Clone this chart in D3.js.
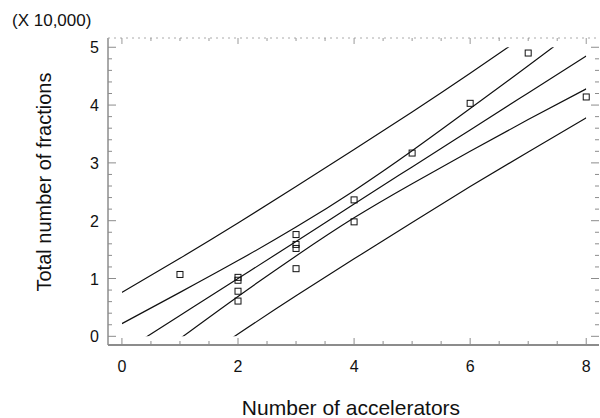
<!DOCTYPE html>
<html lang="en">
<head>
  <meta charset="UTF-8" />
  <title>Total number of fractions vs Number of accelerators</title>
  <script src="https://d3js.org/d3.v7.min.js"></script>
  <style>
    body {
      margin: 0;
      background: #fff;
      font-family: "Liberation Sans", Arial, sans-serif;
    }
    svg text {
      fill: #111;
    }
  </style>
</head>
<body>
  <div id="chart"></div>

  <script>
    // ---------- DATA ----------
    // observed points (y in units of 10,000 fractions)
    const accelerators = [1, 2, 2, 2, 2, 3, 3, 3, 3, 4, 4, 5, 6, 7, 8];
    const fractions = [1.07, 1.02, 0.97, 0.78, 0.61, 1.76, 1.59, 1.52, 1.17, 2.36, 1.98, 3.17, 4.03, 4.90, 4.14];

    // fitted line and bands, read at each whole number of accelerators
    const bandX = [0, 1, 2, 3, 4, 5, 6, 7, 8];
    const fitLine = [-0.28, 0.36, 1.00, 1.64, 2.29, 2.93, 3.57, 4.21, 4.85];
    const confUpper = [0.22, 0.76, 1.31, 1.89, 2.52, 3.21, 3.94, 4.68, 5.43];
    const confLower = [-0.78, -0.04, 0.69, 1.39, 2.05, 2.64, 3.20, 3.75, 4.28];
    const predUpper = [0.76, 1.35, 1.96, 2.59, 3.23, 3.88, 4.55, 5.24, 5.93];
    const predLower = [-1.32, -0.64, 0.04, 0.70, 1.34, 1.97, 2.59, 3.19, 3.78];

    const xMajorTicks = [0, 2, 4, 6, 8];
    const yMajorTicks = [0, 1, 2, 3, 4, 5];

    // ---------- CHART ----------
    const width = 600, height = 418;
    const svg = d3.select("#chart").append("svg")
      .attr("width", width).attr("height", height);

    const x = d3.scaleLinear().domain([-0.24, 8.22]).range([108, 599]);
    const y = d3.scaleLinear().domain([-0.15, 5.16]).range([345, 38]);

    const axisColor = "#8c8c8c";

    // clip the curves to the 0..8 x 0..5 data window
    svg.append("clipPath").attr("id", "plotClip")
      .append("rect")
      .attr("x", x(0)).attr("y", y(5))
      .attr("width", x(8) - x(0)).attr("height", y(0) - y(5));

    // axes frame
    const [x0, x1] = x.range();
    const [yb, yt] = y.range();
    svg.append("line").attr("x1", x0).attr("x2", x0).attr("y1", yt).attr("y2", yb)
      .attr("stroke", axisColor).attr("stroke-width", 1.5);
    svg.append("line").attr("x1", x0).attr("x2", x1).attr("y1", yb).attr("y2", yb)
      .attr("stroke", axisColor).attr("stroke-width", 2);
    svg.append("line").attr("x1", x0).attr("x2", x1).attr("y1", yt).attr("y2", yt)
      .attr("stroke", "#aaa").attr("stroke-width", 1).attr("stroke-dasharray", "2,4");

    // inward ticks built from scale.ticks
    const xMinor = x.ticks(16).filter(v => v >= 0 && v <= 8);
    const yMinor = y.ticks(25).filter(v => v >= 0 && v <= 5);
    const isMajorX = v => xMajorTicks.includes(v);
    const isMajorY = v => yMajorTicks.includes(Math.round(v * 10) / 10);

    const ticks = svg.append("g").attr("stroke", axisColor).attr("stroke-width", 1);
    // bottom
    ticks.selectAll(".tb").data(xMinor).join("line")
      .attr("x1", d => x(d)).attr("x2", d => x(d))
      .attr("y1", yb).attr("y2", d => yb - (isMajorX(d) ? 7 : 4));
    // top
    ticks.selectAll(".tt").data(xMinor).join("line")
      .attr("x1", d => x(d)).attr("x2", d => x(d))
      .attr("y1", yt).attr("y2", d => yt + (isMajorX(d) ? 6 : 3))
      .attr("stroke", "#999");
    // left
    ticks.selectAll(".tl").data(yMinor).join("line")
      .attr("y1", d => y(d)).attr("y2", d => y(d))
      .attr("x1", x0).attr("x2", d => x0 + (isMajorY(d) ? 8 : 4));
    // right
    ticks.selectAll(".tr").data(yMinor).join("line")
      .attr("y1", d => y(d)).attr("y2", d => y(d))
      .attr("x1", x1).attr("x2", d => x1 - (isMajorY(d) ? 8 : 4));

    // tick labels
    svg.selectAll(".xl").data(xMajorTicks).join("text")
      .attr("x", d => x(d)).attr("y", 372)
      .attr("text-anchor", "middle").attr("font-size", 16)
      .text(d => d);
    svg.selectAll(".yl").data(yMajorTicks).join("text")
      .attr("x", 99).attr("y", d => y(d) + 6)
      .attr("text-anchor", "end").attr("font-size", 16)
      .text(d => d);

    // axis titles
    svg.append("text").attr("x", 12).attr("y", 26)
      .attr("font-size", 17).text("(X 10,000)");
    svg.append("text")
      .attr("transform", "translate(51,182) rotate(-90)")
      .attr("text-anchor", "middle").attr("font-size", 20)
      .text("Total number of fractions");
    svg.append("text").attr("x", 351).attr("y", 415)
      .attr("text-anchor", "middle").attr("font-size", 21)
      .text("Number of accelerators");

    // ---------- CURVES ----------
    const curve = d3.line()
      .x((d, i) => x(bandX[i]))
      .y(d => y(d))
      .curve(d3.curveNatural);

    svg.append("g").attr("clip-path", "url(#plotClip)")
      .selectAll("path")
      .data([predUpper, confUpper, fitLine, confLower, predLower])
      .join("path")
      .attr("d", curve)
      .attr("fill", "none")
      .attr("stroke", "#111")
      .attr("stroke-width", 1.2);

    // ---------- POINTS ----------
    const sq = 6;
    svg.append("g").selectAll("rect")
      .data(accelerators)
      .join("rect")
      .attr("x", (d, i) => x(d) - sq / 2)
      .attr("y", (d, i) => y(fractions[i]) - sq / 2)
      .attr("width", sq).attr("height", sq)
      .attr("fill", "none")
      .attr("stroke", "#111")
      .attr("stroke-width", 1);
  </script>
</body>
</html>
